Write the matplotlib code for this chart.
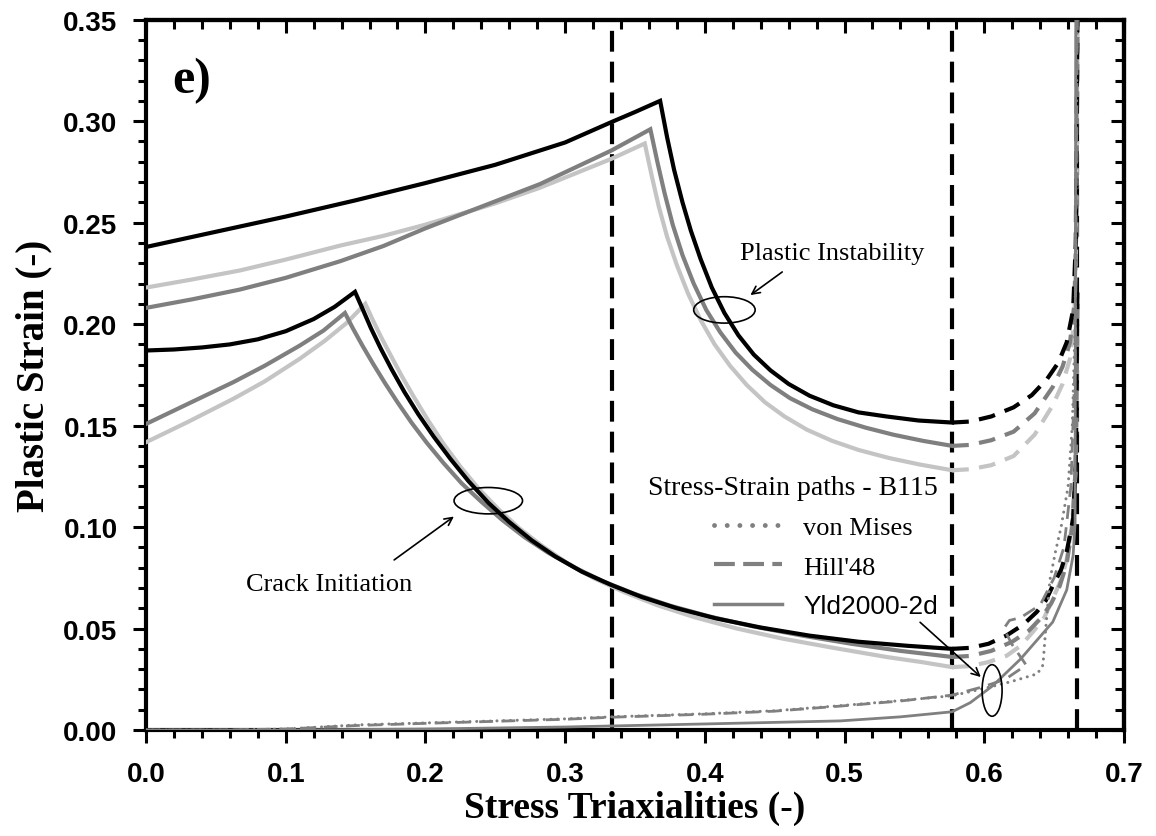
import matplotlib
matplotlib.use("Agg")
import matplotlib.pyplot as plt
from matplotlib.lines import Line2D
from matplotlib.patches import Ellipse
from matplotlib.ticker import MultipleLocator

BLACK = "#000000"
DARK = "#7f7f7f"
LIGHT = "#c4c4c4"
PATH = "#808080"

# reference triaxialities (shear, plane strain, equibiaxial)
ref_eta = [1 / 3, 0.577, 2 / 3]

# plastic instability loci: von Mises (black), Hill'48 (dark), Yld2000-2d (light)
inst_black_x = [0.0, 0.05, 0.1, 0.15, 0.2, 0.25, 0.3, 0.333, 0.35, 0.368,
                0.373, 0.378, 0.384, 0.390, 0.397, 0.405, 0.414, 0.424, 0.435, 0.447, 0.460,
                0.475, 0.492, 0.510, 0.530, 0.553, 0.577]
inst_black_y = [0.238, 0.2455, 0.253, 0.261, 0.2695, 0.2785, 0.2895, 0.2995, 0.3045, 0.310,
                0.292, 0.276, 0.260, 0.246, 0.232, 0.218, 0.2055, 0.1945, 0.185, 0.1772, 0.1705,
                0.1647, 0.160, 0.1565, 0.1545, 0.1525, 0.1515]
inst_dark_x = [0.0, 0.033, 0.067, 0.1, 0.139, 0.17, 0.2, 0.25, 0.282, 0.333, 0.361,
               0.366, 0.371, 0.377, 0.384, 0.392, 0.401, 0.411, 0.422, 0.434, 0.447, 0.461,
               0.477, 0.495, 0.515, 0.535, 0.556, 0.577]
inst_dark_y = [0.208, 0.2122, 0.217, 0.2228, 0.231, 0.2385, 0.2472, 0.2605, 0.269, 0.2855, 0.296,
               0.280, 0.265, 0.249, 0.234, 0.220, 0.207, 0.196, 0.186, 0.1775, 0.170, 0.1635,
               0.158, 0.1532, 0.149, 0.1455, 0.1425, 0.140]
inst_light_x = [0.0, 0.033, 0.067, 0.1, 0.139, 0.17, 0.2, 0.25, 0.282, 0.333, 0.357,
                0.362, 0.367, 0.373, 0.380, 0.388, 0.397, 0.407, 0.418, 0.430, 0.443, 0.457,
                0.473, 0.491, 0.510, 0.532, 0.554, 0.577]
inst_light_y = [0.218, 0.222, 0.2264, 0.2318, 0.2387, 0.2435, 0.249, 0.2595, 0.2672, 0.2814, 0.289,
                0.273, 0.258, 0.243, 0.229, 0.215, 0.202, 0.190, 0.1795, 0.170, 0.1615, 0.1545,
                0.148, 0.1425, 0.138, 0.134, 0.1308, 0.128]

# instability loci beyond plane strain
inst_black_ext_x = [0.577, 0.59, 0.605, 0.621, 0.634, 0.645, 0.653, 0.659, 0.6636, 0.6655, 0.6667]
inst_black_ext_y = [0.1515, 0.152, 0.1545, 0.159, 0.165, 0.173, 0.181, 0.191, 0.207, 0.24, 0.35]
inst_dark_ext_x = [0.577, 0.59, 0.605, 0.621, 0.636, 0.649, 0.656, 0.6614, 0.6645, 0.666, 0.6667]
inst_dark_ext_y = [0.140, 0.1405, 0.1428, 0.147, 0.156, 0.169, 0.179, 0.191, 0.21, 0.25, 0.35]
inst_light_ext_x = [0.577, 0.59, 0.605, 0.621, 0.636, 0.649, 0.656, 0.6614, 0.6645, 0.666, 0.6667]
inst_light_ext_y = [0.128, 0.1285, 0.1305, 0.135, 0.1455, 0.160, 0.1705, 0.183, 0.203, 0.245, 0.35]

# crack initiation loci
crack_black_x = [0.0, 0.02, 0.04, 0.06, 0.08, 0.10, 0.12, 0.135, 0.1496,
                 0.155, 0.161, 0.168, 0.176, 0.185, 0.195, 0.206, 0.218, 0.231, 0.245, 0.260,
                 0.276, 0.293, 0.312, 0.333, 0.355, 0.380, 0.408, 0.440, 0.475, 0.510, 0.545, 0.577]
crack_black_y = [0.187, 0.1875, 0.1885, 0.190, 0.1925, 0.1965, 0.2025, 0.2085, 0.2159,
                 0.2075, 0.198, 0.188, 0.1775, 0.1665, 0.1555, 0.1445, 0.1335, 0.1225, 0.112, 0.1025,
                 0.0935, 0.0855, 0.078, 0.0715, 0.0655, 0.060, 0.055, 0.0505, 0.0465, 0.0435, 0.0415, 0.040]
crack_dark_x = [0.0, 0.03, 0.0625, 0.085, 0.11, 0.127, 0.1424,
                0.148, 0.155, 0.1625, 0.171, 0.180, 0.190, 0.201, 0.213, 0.226, 0.240, 0.255,
                0.271, 0.288, 0.307, 0.327, 0.350, 0.375, 0.403, 0.435, 0.470, 0.505, 0.540, 0.577]
crack_dark_y = [0.1508, 0.1607, 0.1714, 0.1795, 0.1894, 0.1968, 0.2055,
                0.198, 0.1893, 0.1805, 0.171, 0.1615, 0.1515, 0.1415, 0.1315, 0.1215, 0.1125, 0.1035,
                0.095, 0.0873, 0.080, 0.0733, 0.067, 0.0613, 0.056, 0.051, 0.0465, 0.0425, 0.039, 0.036]
crack_light_x = [0.0, 0.03, 0.0625, 0.085, 0.11, 0.128, 0.1435, 0.157,
                 0.162, 0.168, 0.175, 0.183, 0.192, 0.202, 0.213, 0.225, 0.238, 0.252, 0.267,
                 0.283, 0.301, 0.320, 0.342, 0.366, 0.393, 0.423, 0.456, 0.492, 0.530, 0.555, 0.577]
crack_light_y = [0.1418, 0.1518, 0.1632, 0.1718, 0.1829, 0.1918, 0.2005, 0.210,
                 0.2025, 0.194, 0.1848, 0.1745, 0.1638, 0.1525, 0.141, 0.1298, 0.119, 0.109, 0.0995,
                 0.091, 0.0825, 0.075, 0.068, 0.0615, 0.0555, 0.050, 0.045, 0.0405, 0.036, 0.0335, 0.031]

crack_black_ext_x = [0.577, 0.59, 0.603, 0.616, 0.628, 0.6376, 0.644, 0.649, 0.655, 0.659, 0.6636, 0.6655, 0.6667]
crack_black_ext_y = [0.040, 0.0405, 0.0425, 0.0466, 0.052, 0.0582, 0.0638, 0.071, 0.079, 0.0878, 0.104, 0.13, 0.22]
crack_dark_ext_x = [0.577, 0.59, 0.605, 0.62, 0.632, 0.641, 0.648, 0.654, 0.659, 0.663, 0.6655, 0.6667]
crack_dark_ext_y = [0.036, 0.0365, 0.039, 0.0435, 0.049, 0.0555, 0.0625, 0.071, 0.082, 0.10, 0.13, 0.21]
crack_light_ext_x = [0.577, 0.59, 0.603, 0.616, 0.626, 0.635, 0.643, 0.649, 0.655, 0.659, 0.663, 0.6655, 0.6667]
crack_light_ext_y = [0.031, 0.0315, 0.0335, 0.0366, 0.0415, 0.0485, 0.0555, 0.0646, 0.074, 0.084, 0.102, 0.13, 0.20]

# stress-strain paths of specimen B115
vm_x = [0.0, 0.05, 0.1, 0.15, 0.2, 0.25, 0.3, 0.333, 0.4, 0.45, 0.497, 0.54, 0.577, 0.60, 0.62,
        0.638, 0.642, 0.644, 0.647, 0.651, 0.655, 0.66, 0.663, 0.665, 0.6665]
vm_y = [0.0, 0.0, 0.0005, 0.0025, 0.0035, 0.0045, 0.0055, 0.0065, 0.008, 0.0095, 0.012, 0.0145, 0.0169,
        0.0205, 0.024, 0.0277, 0.032, 0.05, 0.074, 0.088, 0.10, 0.12, 0.15, 0.2, 0.35]
hill_x = [0.0, 0.05, 0.1, 0.15, 0.2, 0.25, 0.3, 0.333, 0.4, 0.45, 0.497, 0.54, 0.577, 0.60, 0.615,
          0.63, 0.62, 0.614, 0.618, 0.626, 0.64, 0.65, 0.657, 0.662, 0.665, 0.6667]
hill_y = [0.0, 0.0, 0.0005, 0.0022, 0.0033, 0.0043, 0.0053, 0.0063, 0.0078, 0.0093, 0.0118, 0.0143,
          0.0172, 0.0215, 0.025, 0.032, 0.042, 0.05, 0.054, 0.0554, 0.0616, 0.075, 0.09, 0.12, 0.18, 0.35]
yld_x = [0.0, 0.1, 0.2, 0.3, 0.4, 0.497, 0.54, 0.577, 0.59, 0.606, 0.626, 0.649, 0.659, 0.6636,
         0.665, 0.6655]
yld_y = [0.0, 0.0, 0.0005, 0.0015, 0.003, 0.0045, 0.0065, 0.009, 0.0135, 0.0218, 0.035, 0.0532, 0.069,
         0.086, 0.102, 0.35]

fig = plt.figure(figsize=(11.56, 8.37), dpi=100)
ax = fig.add_axes([0.1263, 0.1266, 0.8460, 0.8487])

for xv in ref_eta:
    ax.axvline(xv, color=BLACK, lw=3, ls=(0, (5, 2.4)), zorder=1)

lw_locus = 3.0
for xs, ys, c in [(inst_light_x, inst_light_y, LIGHT), (inst_dark_x, inst_dark_y, DARK),
                  (inst_black_x, inst_black_y, BLACK), (crack_light_x, crack_light_y, LIGHT),
                  (crack_dark_x, crack_dark_y, DARK), (crack_black_x, crack_black_y, BLACK)]:
    ax.plot(xs, ys, color=c, lw=lw_locus, solid_joinstyle="miter", zorder=3)

for xs, ys, c in [(inst_light_ext_x, inst_light_ext_y, LIGHT), (inst_dark_ext_x, inst_dark_ext_y, DARK),
                  (inst_black_ext_x, inst_black_ext_y, BLACK), (crack_light_ext_x, crack_light_ext_y, LIGHT),
                  (crack_dark_ext_x, crack_dark_ext_y, DARK), (crack_black_ext_x, crack_black_ext_y, BLACK)]:
    ax.plot(xs, ys, color=c, lw=lw_locus, ls=(0, (4, 2.5)), zorder=3)

ax.plot(vm_x, vm_y, color=PATH, lw=2.2, ls=(0, (0.01, 2.2)), dash_capstyle="round", zorder=4)
ax.plot(hill_x, hill_y, color=PATH, lw=2.0, ls=(0, (5, 3)), zorder=4)
ax.plot(yld_x, yld_y, color=PATH, lw=2.0, zorder=4)

# annotations
for center, w, h in [((0.414, 0.207), 0.044, 0.013), ((0.245, 0.113), 0.049, 0.013),
                     ((0.6056, 0.0195), 0.0143, 0.0254)]:
    ax.add_patch(Ellipse(center, w, h, fill=False, ec=BLACK, lw=1.2, zorder=5))

arrow = dict(arrowstyle="->", color=BLACK, lw=1.2, mutation_scale=14)
ax.annotate("", xy=(0.431, 0.2135), xytext=(0.457, 0.2265), arrowprops=arrow)
ax.text(0.4915, 0.235, "Plastic Instability", family="Liberation Serif", fontsize=19,
        ha="center", va="center")
ax.annotate("", xy=(0.222, 0.106), xytext=(0.176, 0.083), arrowprops=arrow)
ax.text(0.131, 0.072, "Crack Initiation", family="Liberation Serif", fontsize=19,
        ha="center", va="center")
ax.annotate("", xy=(0.599, 0.0252), xytext=(0.5526, 0.054), arrowprops=arrow)

ax.text(0.033, 0.320, "e)", family="Liberation Serif", fontweight="bold", fontsize=36,
        ha="center", va="center")

handles = [Line2D([], [], color=PATH, lw=3.5, ls=(0, (0.01, 2.6)), dash_capstyle="round"),
           Line2D([], [], color=PATH, lw=3.0, ls=(0, (5, 2))),
           Line2D([], [], color=PATH, lw=2.5)]
leg = ax.legend(handles, ["von Mises", "Hill'48", "Yld2000-2d"], title="Stress-Strain paths - B115",
                loc="upper right", bbox_to_anchor=(0.81, 0.359), frameon=False,
                prop={"family": "Liberation Serif", "size": 19},
                title_fontproperties={"family": "Liberation Serif", "size": 20},
                handlelength=2.6, handletextpad=0.8, labelspacing=0.6, borderpad=0,
                borderaxespad=0, alignment="right")
leg.get_texts()[2].set_family("Liberation Sans")

ax.set_xlim(0, 0.7)
ax.set_ylim(0, 0.35)
ax.xaxis.set_major_locator(MultipleLocator(0.1))
ax.xaxis.set_minor_locator(MultipleLocator(0.02))
ax.yaxis.set_major_locator(MultipleLocator(0.05))
ax.yaxis.set_minor_locator(MultipleLocator(0.01))
ax.xaxis.set_major_formatter(plt.FormatStrFormatter("%.1f"))
ax.yaxis.set_major_formatter(plt.FormatStrFormatter("%.2f"))
ax.tick_params(which="both", direction="out", width=2.2, top=False, right=False)
ax.tick_params(which="major", length=9.5)
ax.tick_params(which="minor", length=6)
ax.tick_params(axis="y", pad=11)
ax.tick_params(axis="x", pad=13)
for lab in ax.get_yticklabels() + ax.get_xticklabels():
    lab.set_family("Liberation Sans")
    lab.set_fontweight("bold")
    lab.set_fontsize(20)

# inward ticks on the top and right edges
top = ax.secondary_xaxis("top")
right = ax.secondary_yaxis("right")
top.xaxis.set_major_locator(MultipleLocator(0.1))
top.xaxis.set_minor_locator(MultipleLocator(0.02))
right.yaxis.set_major_locator(MultipleLocator(0.05))
right.yaxis.set_minor_locator(MultipleLocator(0.01))
for sec in (top, right):
    sec.tick_params(which="both", direction="in", width=2.2, labelsize=0)
    sec.tick_params(which="major", length=9.5)
    sec.tick_params(which="minor", length=6.5)
    for sp in sec.spines.values():
        sp.set_linewidth(3)
top.set_xticklabels([])
right.set_yticklabels([])

for sp in ax.spines.values():
    sp.set_linewidth(3)

ax.set_xlabel("Stress Triaxialities (-)", family="Liberation Serif", fontweight="bold",
              fontsize=27, labelpad=2)
ax.set_ylabel("Plastic Strain (-)", family="Liberation Serif", fontweight="bold",
              fontsize=28, labelpad=8)

fig.savefig("out.png", dpi=100)
